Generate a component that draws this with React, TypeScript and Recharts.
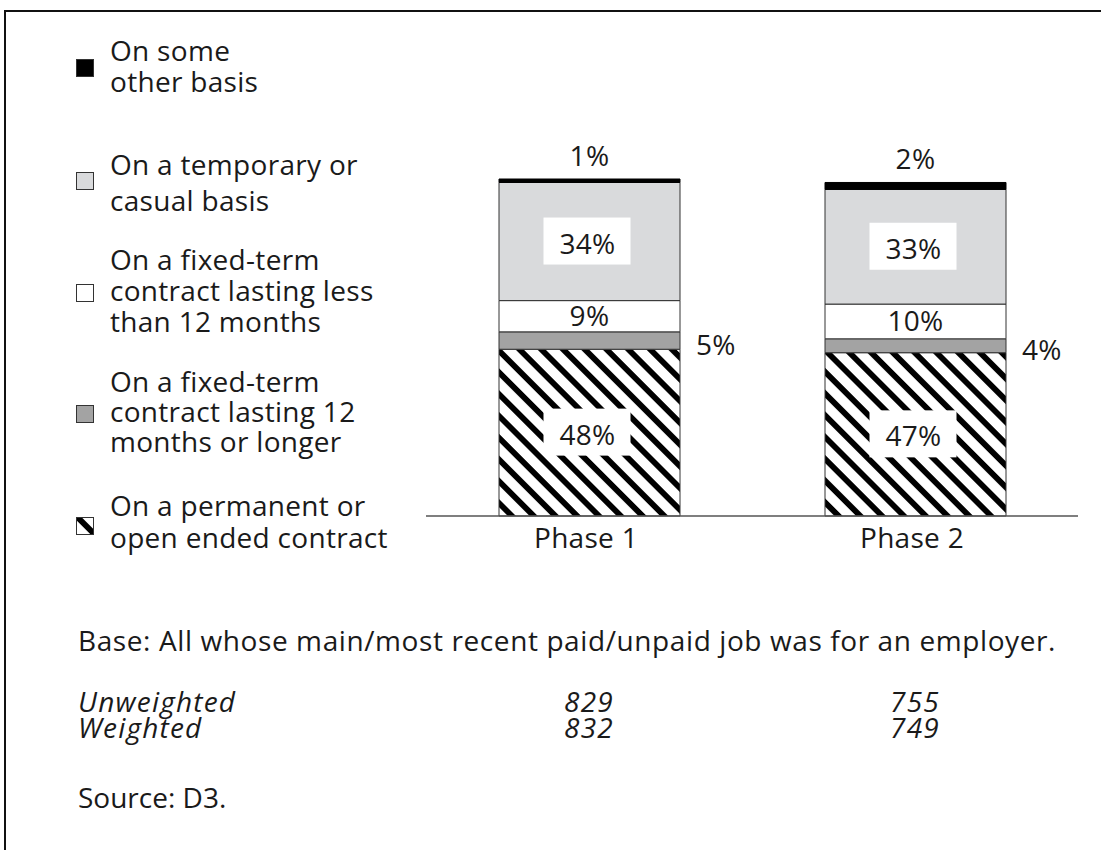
import React from "react";
import { BarChart, Bar, XAxis, YAxis, LabelList } from "recharts";

const CATEGORIES = ["Phase 1", "Phase 2"];
// stacked from the bottom up
const PERMANENT = [48, 47];
const FIXED_LONG = [5, 4];
const FIXED_SHORT = [9, 10];
const TEMPORARY = [34, 33];
const OTHER = [1, 2];

const UNWEIGHTED = [829, 755];
const WEIGHTED = [832, 749];

const FONT = "'Open Sans', 'Noto Sans', sans-serif";
const INK = "#1a1a1a";
const EDGE = "#333";

const data = CATEGORIES.map((name, i) => ({
  name,
  permanent: PERMANENT[i],
  fixedLong: FIXED_LONG[i],
  fixedShort: FIXED_SHORT[i],
  temporary: TEMPORARY[i],
  other: OTHER[i],
}));

// legend, top to bottom
const LEGEND = [
  { lines: ["On some", "other basis"], fill: "#000", baselines: [61, 92], iconY: 68 },
  { lines: ["On a temporary or", "casual basis"], fill: "#d9dadc", baselines: [175, 211], iconY: 181 },
  { lines: ["On a fixed-term", "contract lasting less", "than 12 months"], fill: "#fff", baselines: [270, 301, 332], iconY: 293 },
  { lines: ["On a fixed-term", "contract lasting 12", "months or longer"], fill: "#a3a3a3", baselines: [392, 422, 452], iconY: 414 },
  { lines: ["On a permanent or", "open ended contract"], fill: "url(#hatchIcon)", baselines: [516, 548], iconY: 526 },
];

const BAR_CENTERS = [589, 915];

function HatchDef({ id }: { id: string }) {
  return (
    <pattern id={id} width="10" height="15.4" patternUnits="userSpaceOnUse" patternTransform="rotate(45)">
      <rect x="0" y="0" width="10" height="15.4" fill="#fff" />
      <rect x="0" y="0" width="10" height="5.8" fill="#000" />
    </pattern>
  );
}

const txt = { fontFamily: FONT, fontSize: 28, fill: INK, letterSpacing: 0.3 } as const;

function BoxLabel(props: any) {
  const { x, y, width, height, value } = props;
  const cx = x + width / 2;
  const cy = y + height / 2;
  return (
    <g>
      <rect x={cx - 46} y={cy - 24} width={87} height={47} fill="#fff" />
      <text x={cx - 2} y={cy + 1} textAnchor="middle" dominantBaseline="central" {...txt}>
        {value}%
      </text>
    </g>
  );
}

function CenterLabel(props: any) {
  const { x, y, width, height, value } = props;
  return (
    <text x={x + width / 2} y={y + height / 2 - 1} textAnchor="middle" dominantBaseline="central" {...txt}>
      {value}%
    </text>
  );
}

function RightLabel(props: any) {
  const { x, y, width, height, value } = props;
  return (
    <text x={x + width + 16} y={y + height / 2 + 3} textAnchor="start" dominantBaseline="central" {...txt}>
      {value}%
    </text>
  );
}

function TopLabel(props: any) {
  const { x, y, width, value } = props;
  return (
    <text x={x + width / 2} y={y - 24} textAnchor="middle" dominantBaseline="central" {...txt}>
      {value}%
    </text>
  );
}

function PhaseTick(props: any) {
  const { x, y, payload } = props;
  return (
    <text x={x - 3} y={y + 13} textAnchor="middle" dominantBaseline="central" {...txt}>
      {payload.value}
    </text>
  );
}

function Legend() {
  return (
    <svg width={420} height={580} style={{ position: "absolute", left: 0, top: 0 }}>
      <defs>
        <HatchDef id="hatchIcon" />
      </defs>
      {LEGEND.map((item, i) => (
        <g key={i}>
          <rect x={76.5} y={item.iconY - 8.5} width={17} height={17} fill={item.fill} stroke={EDGE} strokeWidth={1} />
          {item.lines.map((line, j) => (
            <text key={j} x={110} y={item.baselines[j]} {...txt}>
              {line}
            </text>
          ))}
        </g>
      ))}
    </svg>
  );
}

const noteStyle: React.CSSProperties = {
  position: "absolute",
  fontFamily: FONT,
  fontSize: 28,
  color: INK,
  lineHeight: "30px",
  whiteSpace: "nowrap",
};

const italicStyle: React.CSSProperties = {
  ...noteStyle,
  fontStyle: "italic",
  lineHeight: "26px",
  height: 26,
  letterSpacing: 1.2,
};

export default function App() {
  return (
    <div style={{ position: "absolute", left: 0, top: 0, width: 1101, height: 850, background: "#fff", overflow: "hidden" }}>
      <div
        style={{
          position: "absolute",
          left: 4,
          top: 10,
          width: 1110,
          height: 860,
          borderTop: "2px solid #111",
          borderLeft: "2px solid #111",
        }}
      />
      <div style={{ position: "absolute", left: 0, top: 0 }}>
        <BarChart width={1101} height={850} data={data} margin={{ top: 179, right: 23, bottom: 294, left: 426 }}>
          <defs>
            <HatchDef id="hatch" />
          </defs>
          <XAxis
            dataKey="name"
            height={40}
            tickLine={false}
            axisLine={{ stroke: "#555", strokeWidth: 1.5 }}
            tick={<PhaseTick />}
          />
          <YAxis hide domain={[0, 97]} />
          <Bar dataKey="permanent" stackId="a" barSize={181} fill="url(#hatch)" stroke={EDGE} strokeWidth={1} isAnimationActive={false}>
            <LabelList dataKey="permanent" content={<BoxLabel />} />
          </Bar>
          <Bar dataKey="fixedLong" stackId="a" barSize={181} fill="#a3a3a3" stroke={EDGE} strokeWidth={1} isAnimationActive={false}>
            <LabelList dataKey="fixedLong" content={<RightLabel />} />
          </Bar>
          <Bar dataKey="fixedShort" stackId="a" barSize={181} fill="#fff" stroke={EDGE} strokeWidth={1} isAnimationActive={false}>
            <LabelList dataKey="fixedShort" content={<CenterLabel />} />
          </Bar>
          <Bar dataKey="temporary" stackId="a" barSize={181} fill="#d9dadc" stroke={EDGE} strokeWidth={1} isAnimationActive={false}>
            <LabelList dataKey="temporary" content={<BoxLabel />} />
          </Bar>
          <Bar dataKey="other" stackId="a" barSize={181} fill="#000" stroke="#000" strokeWidth={1} isAnimationActive={false}>
            <LabelList dataKey="other" content={<TopLabel />} />
          </Bar>
        </BarChart>
      </div>
      <Legend />
      <div style={{ ...noteStyle, left: 78, top: 625, letterSpacing: 0.6 }}>
        Base: All whose main/most recent paid/unpaid job was for an employer.
      </div>
      <div style={{ ...italicStyle, left: 78, top: 688 }}>Unweighted</div>
      <div style={{ ...italicStyle, left: 78, top: 714 }}>Weighted</div>
      {BAR_CENTERS.map((cx, i) => (
        <React.Fragment key={i}>
          <div style={{ ...italicStyle, left: cx - 50, width: 100, top: 688, textAlign: "center" }}>{UNWEIGHTED[i]}</div>
          <div style={{ ...italicStyle, left: cx - 50, width: 100, top: 714, textAlign: "center" }}>{WEIGHTED[i]}</div>
        </React.Fragment>
      ))}
      <div style={{ ...noteStyle, left: 78, top: 782 }}>Source: D3.</div>
    </div>
  );
}
